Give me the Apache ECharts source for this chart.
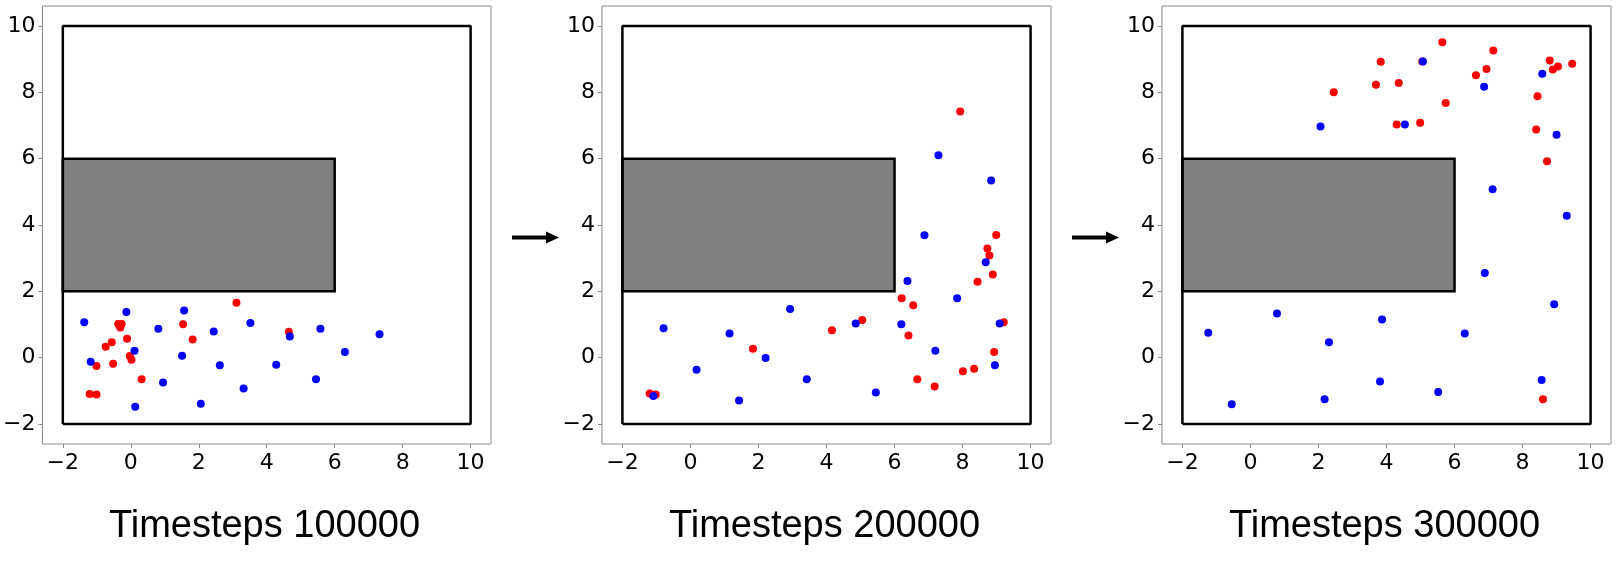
<!DOCTYPE html>
<html>
<head>
<meta charset="utf-8">
<script src="https://cdn.jsdelivr.net/npm/echarts@6/dist/echarts.min.js"></script>
<style>
html, body { margin: 0; padding: 0; background: #fff; }
#myChart { width: 1616px; height: 572px; }
</style>
</head>
<body>
<div id="myChart"></div>
<script>
// panel titles and axis ticks
var titles = ["Timesteps 100000", "Timesteps 200000", "Timesteps 300000"];
var ticks = [-2, 0, 2, 4, 6, 8, 10];
var axisRange = [-2.6, 10.6];

// arena walls and obstacle (data coords)
var wall = [[-2, -2], [10, -2], [10, 10], [-2, 10], [-2, -2]];
var obstacle = [[-2, 2], [6, 6]];

// agent positions
var red100k = [
	[-1.21, -1.09], [-1.01, -1.11], [-1.01, -0.25], [-0.74, 0.33], [-0.56, 0.47],
	[-0.52, -0.18], [-0.37, 1.02], [-0.27, 1.02], [-0.31, 0.91], [-0.11, 0.57],
	[-0.03, 0.05], [0.02, -0.06], [0.32, -0.65], [1.54, 1.01], [1.82, 0.55],
	[3.11, 1.66], [4.65, 0.78]
];
var blue100k = [
	[-1.37, 1.07], [-1.18, -0.12], [-0.13, 1.38], [0.11, 0.21], [0.13, -1.48],
	[0.81, 0.87], [0.95, -0.75], [1.57, 1.42], [1.51, 0.06], [2.06, -1.39],
	[2.44, 0.79], [2.62, -0.23], [3.32, -0.93], [3.52, 1.05], [4.28, -0.21],
	[4.68, 0.64], [5.45, -0.65], [5.58, 0.87], [6.30, 0.17], [7.32, 0.71]
];
var red200k = [
	[-1.20, -1.08], [-1.02, -1.11], [1.84, 0.27], [4.16, 0.83], [5.05, 1.14],
	[6.21, 1.79], [6.55, 1.58], [6.41, 0.67], [6.67, -0.65], [7.18, -0.87],
	[7.93, 7.42], [8.01, -0.41], [8.34, -0.33], [8.44, 2.29], [8.73, 3.29],
	[8.79, 3.08], [8.89, 2.51], [8.99, 3.70], [8.93, 0.17], [9.21, 1.07]
];
var blue200k = [
	[-1.09, -1.15], [-0.79, 0.89], [0.18, -0.36], [1.15, 0.73], [1.43, -1.29],
	[2.21, -0.01], [2.93, 1.47], [3.42, -0.65], [4.86, 1.03], [5.45, -1.05],
	[6.20, 1.01], [6.38, 2.31], [6.88, 3.69], [7.20, 0.21], [7.29, 6.10],
	[7.84, 1.79], [8.68, 2.88], [8.84, 5.34], [9.09, 1.03], [8.95, -0.23]
];
var red300k = [
	[2.45, 8.00], [3.69, 8.23], [3.83, 8.92], [4.36, 8.28], [4.30, 7.03],
	[4.99, 7.08], [5.64, 9.51], [5.74, 7.68], [6.63, 8.51], [6.94, 8.70],
	[7.14, 9.26], [8.44, 7.88], [8.40, 6.88], [8.72, 5.92], [8.80, 8.96],
	[8.89, 8.69], [9.04, 8.78], [9.46, 8.86], [8.60, -1.25], [5.05, 8.93]
];
var blue300k = [
	[-1.24, 0.75], [-0.55, -1.40], [0.78, 1.33], [2.06, 6.97], [2.31, 0.47],
	[2.18, -1.25], [3.87, 1.15], [3.81, -0.72], [4.54, 7.03], [5.07, 8.93],
	[5.52, -1.03], [6.30, 0.73], [6.87, 8.17], [6.89, 2.55], [7.12, 5.08],
	[8.58, 8.56], [8.56, -0.67], [9.00, 6.72], [8.93, 1.61], [9.30, 4.28]
];

var redSets = [red100k, red200k, red300k];
var blueSets = [blue100k, blue200k, blue300k];

var panelLeft = 42, panelStep = 560, panelW = 449, panelTop = 6, panelH = 438;

function minusFmt(v) {
	return String(v).replace("-", "\u2212");
}

var grids = [], xAxes = [], yAxes = [], series = [], titleList = [], graphics = [];

for (var i = 0; i < 3; i++) {
	var left = panelLeft + panelStep * i;
	grids.push({
		left: left,
		top: panelTop,
		width: panelW,
		height: panelH,
		show: true,
		borderColor: "#888",
		borderWidth: 1,
		backgroundColor: "#fff",
	});
	var tickStyle = {
		show: true,
		customValues: ticks,
		length: 4,
		lineStyle: { color: "#888", width: 1 },
	};
	var labelStyle = {
		customValues: ticks,
		formatter: minusFmt,
		fontFamily: "DejaVu Sans",
		fontSize: 22,
		color: "#000",
	};
	xAxes.push({
		type: "value",
		gridIndex: i,
		min: axisRange[0],
		max: axisRange[1],
		splitLine: { show: false },
		axisLine: { show: false, onZero: false },
		axisTick: tickStyle,
		axisLabel: Object.assign({ margin: 8 }, labelStyle),
	});
	yAxes.push({
		type: "value",
		gridIndex: i,
		min: axisRange[0],
		max: axisRange[1],
		splitLine: { show: false },
		axisLine: { show: false, onZero: false },
		axisTick: tickStyle,
		axisLabel: Object.assign({ margin: 7 }, labelStyle),
	});

	// walls + obstacle
	series.push({
		type: "line",
		xAxisIndex: i,
		yAxisIndex: i,
		data: wall,
		symbol: "none",
		silent: true,
		lineStyle: { color: "#000", width: 2.5 },
		markArea: {
			silent: true,
			itemStyle: { color: "#808080", borderColor: "#000", borderWidth: 2.5 },
			data: [[{ coord: obstacle[0] }, { coord: obstacle[1] }]],
		},
		z: 1,
	});
	series.push({
		type: "scatter",
		xAxisIndex: i,
		yAxisIndex: i,
		data: redSets[i],
		symbolSize: 8,
		itemStyle: { color: "#ff0000", opacity: 1 },
		z: 3,
	});
	series.push({
		type: "scatter",
		xAxisIndex: i,
		yAxisIndex: i,
		data: blueSets[i],
		symbolSize: 8,
		itemStyle: { color: "#0000ff", opacity: 1 },
		z: 4,
	});

	titleList.push({
		text: titles[i],
		left: left + panelW / 2 - 7,
		textAlign: "center",
		top: 503,
		textStyle: {
			fontFamily: "Liberation Sans",
			fontSize: 38,
			fontWeight: "normal",
			color: "#000",
		},
	});

	// arrows between panels
	if (i < 2) {
		var ax = left + panelW + 21;
		graphics.push({
			type: "rect",
			shape: { x: ax, y: 235.5, width: 35, height: 4 },
			style: { fill: "#000" },
		});
		graphics.push({
			type: "polygon",
			shape: { points: [[ax + 34, 231.5], [ax + 47, 237.5], [ax + 34, 243.5]] },
			style: { fill: "#000" },
		});
	}
}

var myChart = echarts.init(document.getElementById("myChart"));
myChart.setOption({
	animation: false,
	backgroundColor: "#fff",
	title: titleList,
	grid: grids,
	xAxis: xAxes,
	yAxis: yAxes,
	series: series,
	graphic: graphics,
});
</script>
</body>
</html>
